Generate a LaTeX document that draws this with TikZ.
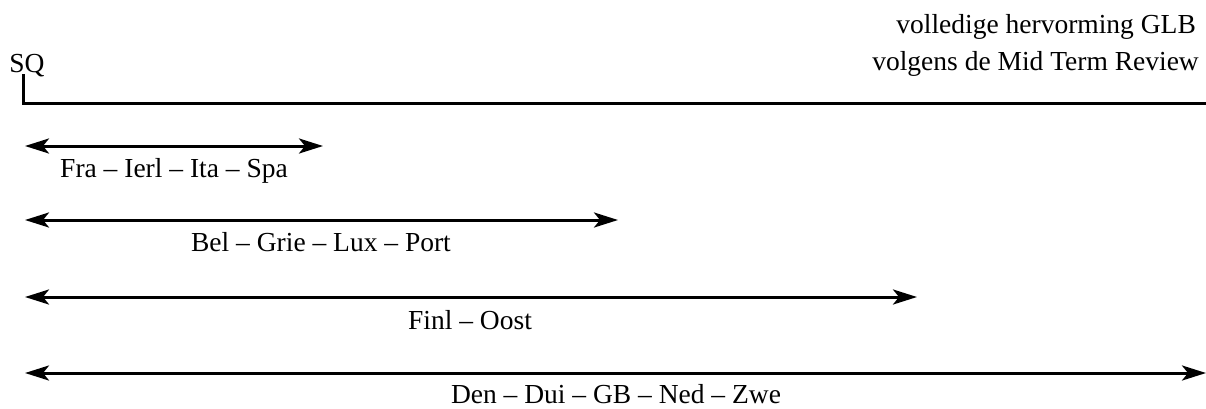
\documentclass[tikz,border=0pt]{standalone}
\usepackage{fontspec}
\setmainfont{Liberation Serif}
\usetikzlibrary{arrows.meta}
\begin{document}
\begin{tikzpicture}[x=1pt,y=-1pt,
  lbl/.style={anchor=base,inner sep=0pt,font=\fontsize{27.5}{30}\selectfont},
  tip/.style={Stealth[length=24pt,width=15pt,inset=6pt]},
  span/.style={line width=3pt,{Stealth[length=24pt,width=15pt,inset=6pt]}-{Stealth[length=24pt,width=15pt,inset=6pt]}},
  axis/.style={line width=3pt}]
\useasboundingbox (0,0) rectangle (1206,408);
% axis from status quo to full reform
\coordinate (sq) at (23,75);
\coordinate (s0) at (23,103);
\coordinate (s1) at (1206,103);
\draw[axis,line cap=rect] (sq) -- (s0) -- (s1);
\node[lbl,anchor=base] (sqt) at (27,72) {SQ};
\node[lbl,anchor=base east] (r1) at (1196,33) {volledige hervorming GLB};
\node[lbl,anchor=base east] (r2) at (1199,70) {volgens de Mid Term Review};
% member state groups
\coordinate (a0) at (25,146);  \coordinate (a1) at (323,146);
\coordinate (b0) at (25,220);  \coordinate (b1) at (618,220);
\coordinate (c0) at (25,297);  \coordinate (c1) at (917,297);
\coordinate (d0) at (25,373);  \coordinate (d1) at (1206,373);
\draw[span] (a0) -- (a1);
\draw[span] (b0) -- (b1);
\draw[span] (c0) -- (c1);
\draw[span] (d0) -- (d1);
\node[lbl] (la) at (174,177) {Fra -- Ierl -- Ita -- Spa};
\node[lbl] (lb) at (321,251) {Bel -- Grie -- Lux -- Port};
\node[lbl] (lc) at (470,329) {Finl -- Oost};
\node[lbl] (ld) at (616,403) {Den -- Dui -- GB -- Ned -- Zwe};
\end{tikzpicture}
\end{document}
